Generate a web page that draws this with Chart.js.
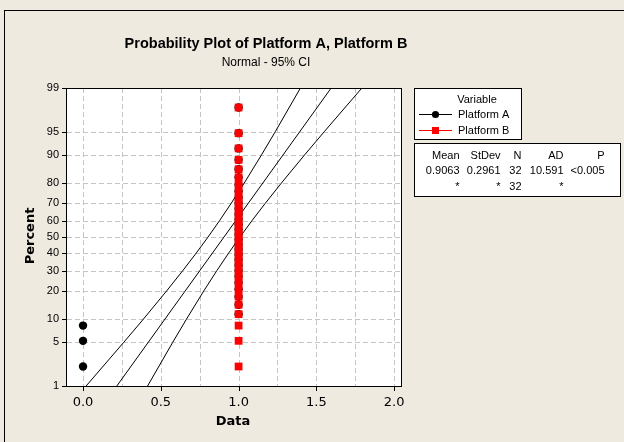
<!DOCTYPE html>
<html>
<head>
<meta charset="utf-8">
<script src="https://cdn.jsdelivr.net/npm/chart.js@4/dist/chart.umd.min.js"></script>
<style>
  html, body { margin: 0; padding: 0; background: #EEEAE0; }
  #wrap { position: relative; width: 624px; height: 442px; }
</style>
</head>
<body>
<div id="wrap"><canvas id="c" width="624" height="442"></canvas></div>
<script>
// Observed values (32 per platform)
const platformA = [0, 0, 0, 1, 1, 1, 1, 1, 1, 1, 1, 1, 1, 1, 1, 1,
                   1, 1, 1, 1, 1, 1, 1, 1, 1, 1, 1, 1, 1, 1, 1, 1];
const platformB = [1, 1, 1, 1, 1, 1, 1, 1, 1, 1, 1, 1, 1, 1, 1, 1,
                   1, 1, 1, 1, 1, 1, 1, 1, 1, 1, 1, 1, 1, 1, 1, 1];
// Median-rank plotting positions (percent) for ranks 1..32
const rankPercent = [2.16, 5.25, 8.33, 11.42, 14.51, 17.59, 20.68, 23.77,
                     26.85, 29.94, 33.02, 36.11, 39.20, 42.28, 45.37, 48.46,
                     51.54, 54.63, 57.72, 60.80, 63.89, 66.98, 70.06, 73.15,
                     76.23, 79.32, 82.41, 85.49, 88.58, 91.67, 94.75, 97.84];

// Fitted normal line for Platform A and its 95% confidence band
const fitPercent = [1, 99];
const fitA = [0.2173, 1.5952];
const ciPercent = [1, 5, 10, 20, 30, 40, 50, 60, 70, 80, 90, 95, 99];
const ciLowerA = [0.0198, 0.2617, 0.3883, 0.5376, 0.6415, 0.7270, 0.8036,
                  0.8770, 0.9521, 1.0361, 1.1473, 1.2360, 1.3976];
const ciUpperA = [0.4149, 0.5765, 0.6652, 0.7764, 0.8604, 0.9355, 1.0089,
                  1.0855, 1.1710, 1.2749, 1.4243, 1.5508, 1.7927];

// Axis ticks
const yTickPercents = [1, 5, 10, 20, 30, 40, 50, 60, 70, 80, 90, 95, 99];
const yGridPercents = [5, 10, 20, 30, 40, 50, 60, 70, 80, 90, 95];
const xTickValues = [0, 0.5, 1, 1.5, 2];
const xGridValues = [0, 0.25, 0.5, 0.75, 1, 1.25, 1.5, 1.75, 2];

// Summary table
const statHeaders = ['Mean', 'StDev', 'N', 'AD', 'P'];
const statRows = [
  ['0.9063', '0.2961', '32', '10.591', '<0.005'],
  ['*', '*', '32', '*', '']
];

// Inverse standard normal CDF (Acklam), used for the probability scale
function probit(p) {
  const a = [-3.969683028665376e+01, 2.209460984245205e+02, -2.759285104469687e+02,
             1.383577518672690e+02, -3.066479806614716e+01, 2.506628277459239e+00];
  const b = [-5.447609879822406e+01, 1.615858368580409e+02, -1.556989798598866e+02,
             6.680131188771972e+01, -1.328068155288572e+01];
  const c = [-7.784894002430293e-03, -3.223964580411365e-01, -2.400758277161838e+00,
             -2.549732539343734e+00, 4.374664141464968e+00, 2.938163982698783e+00];
  const d = [7.784695709041462e-03, 3.224671290700398e-01, 2.445134137142996e+00,
             3.754408661907416e+00];
  const pl = 0.02425, ph = 1 - pl;
  let q, r;
  if (p < pl) {
    q = Math.sqrt(-2 * Math.log(p));
    return (((((c[0]*q+c[1])*q+c[2])*q+c[3])*q+c[4])*q+c[5]) / ((((d[0]*q+d[1])*q+d[2])*q+d[3])*q+1);
  }
  if (p > ph) {
    q = Math.sqrt(-2 * Math.log(1 - p));
    return -(((((c[0]*q+c[1])*q+c[2])*q+c[3])*q+c[4])*q+c[5]) / ((((d[0]*q+d[1])*q+d[2])*q+d[3])*q+1);
  }
  q = p - 0.5; r = q * q;
  return (((((a[0]*r+a[1])*r+a[2])*r+a[3])*r+a[4])*r+a[5])*q / (((((b[0]*r+b[1])*r+b[2])*r+b[3])*r+b[4])*r+1);
}
const z = pct => probit(pct / 100);

const BG = '#EEEAE0';
const GRID = '#C4C4C4';
const RED = '#FF0000';
const SANS = '"Liberation Sans", Arial, sans-serif';

const toPoints = (xs, ps) => xs.map((x, i) => ({ x: x, y: z(ps[i]) }));

const lineStyle = {
  type: 'line', showLine: true, pointRadius: 0, borderColor: '#000',
  borderWidth: 1, fill: false, tension: 0, order: 3
};

const decor = {
  id: 'decor',
  beforeDraw(chart) {
    const { ctx, chartArea: ca, width, height } = chart;
    ctx.save();
    ctx.fillStyle = BG;
    ctx.fillRect(0, 0, width, height);
    ctx.strokeStyle = '#000';
    ctx.lineWidth = 1;
    ctx.strokeRect(4.5, 10.5, width + 10, height + 10);
    ctx.fillStyle = '#fff';
    ctx.fillRect(ca.left, ca.top, ca.right - ca.left, ca.bottom - ca.top);
    ctx.restore();
  },
  beforeDatasetsDraw(chart) {
    const { ctx, chartArea: ca, scales } = chart;
    ctx.save();
    ctx.strokeStyle = GRID;
    ctx.lineWidth = 1;
    ctx.setLineDash([5, 3]);
    xGridValues.forEach(v => {
      const px = Math.round(scales.x.getPixelForValue(v)) + 0.5;
      ctx.beginPath(); ctx.moveTo(px, ca.top); ctx.lineTo(px, ca.bottom); ctx.stroke();
    });
    yGridPercents.forEach(p => {
      const py = Math.round(scales.y.getPixelForValue(z(p))) + 0.5;
      ctx.beginPath(); ctx.moveTo(ca.left, py); ctx.lineTo(ca.right, py); ctx.stroke();
    });
    ctx.restore();
  },
  afterDatasetsDraw(chart) {
    const { ctx, chartArea: ca, scales } = chart;
    ctx.save();
    // plot frame
    ctx.strokeStyle = '#000';
    ctx.lineWidth = 1;
    ctx.setLineDash([]);
    ctx.strokeRect(ca.left - 0.5, ca.top + 0.5, ca.right - ca.left + 1, ca.bottom - ca.top);
    // tick marks
    ctx.beginPath();
    xTickValues.forEach(v => {
      const px = Math.round(scales.x.getPixelForValue(v)) + 0.5;
      ctx.moveTo(px, ca.bottom); ctx.lineTo(px, ca.bottom + 5);
    });
    yTickPercents.forEach(p => {
      const py = Math.round(scales.y.getPixelForValue(z(p))) + 0.5;
      ctx.moveTo(ca.left - 5, py); ctx.lineTo(ca.left, py);
    });
    ctx.stroke();

    // titles
    ctx.fillStyle = '#000';
    ctx.textAlign = 'center';
    ctx.textBaseline = 'alphabetic';
    ctx.font = 'bold 14.5px ' + SANS;
    ctx.fillText('Probability Plot of Platform A, Platform B', 266, 48);
    ctx.font = '12px ' + SANS;
    ctx.fillText('Normal - 95% CI', 266, 66);

    // axis titles
    ctx.font = 'bold 13px "DejaVu Sans", sans-serif';
    ctx.textBaseline = 'middle';
    ctx.fillText('Data', 233, 422);
    ctx.save();
    ctx.translate(31, 236);
    ctx.rotate(-Math.PI / 2);
    ctx.fillText('Percent', 0, 0);
    ctx.restore();

    // legend box
    ctx.strokeStyle = '#000';
    ctx.fillStyle = '#fff';
    ctx.fillRect(414.5, 88.5, 107, 51);
    ctx.strokeRect(414.5, 88.5, 107, 51);
    ctx.fillStyle = '#000';
    ctx.font = '11px ' + SANS;
    ctx.textAlign = 'center';
    ctx.fillText('Variable', 477, 100);
    ctx.textAlign = 'left';
    const entries = [
      { label: 'Platform A', color: '#000', y: 114.5, shape: 'circle' },
      { label: 'Platform B', color: RED, y: 130.5, shape: 'square' }
    ];
    entries.forEach(e => {
      ctx.strokeStyle = e.color;
      ctx.fillStyle = e.color;
      ctx.beginPath(); ctx.moveTo(419, e.y); ctx.lineTo(452, e.y); ctx.stroke();
      if (e.shape === 'circle') {
        ctx.beginPath(); ctx.arc(435.5, e.y, 3.6, 0, Math.PI * 2); ctx.fill();
      } else {
        ctx.fillRect(432, e.y - 3.5, 7, 7);
      }
      ctx.fillStyle = '#000';
      ctx.fillText(e.label, 458, e.y);
    });

    // statistics table
    ctx.strokeStyle = '#000';
    ctx.fillStyle = '#fff';
    ctx.fillRect(414.5, 143.5, 206, 53);
    ctx.strokeRect(414.5, 143.5, 206, 53);
    ctx.fillStyle = '#000';
    ctx.textAlign = 'right';
    const colRight = [459.5, 500.5, 521.5, 563.5, 604.5];
    const rowY = [155.5, 171, 187];
    statHeaders.forEach((h, i) => ctx.fillText(h, colRight[i], rowY[0]));
    statRows.forEach((row, r) => row.forEach((t, i) => ctx.fillText(t, colRight[i], rowY[r + 1])));
    ctx.restore();
  }
};

new Chart(document.getElementById('c'), {
  type: 'scatter',
  data: {
    datasets: [
      {
        label: 'Platform B', data: toPoints(platformB, rankPercent),
        pointStyle: 'rect', pointRadius: 5.5, pointHoverRadius: 5.5,
        backgroundColor: RED, borderColor: RED, borderWidth: 0, order: 0
      },
      {
        label: 'Platform A', data: toPoints(platformA, rankPercent),
        pointStyle: 'circle', pointRadius: 4.2, pointHoverRadius: 4.2,
        backgroundColor: '#000', borderColor: '#000', borderWidth: 0, order: 1
      },
      Object.assign({ label: 'Fit A', data: toPoints(fitA, fitPercent) }, lineStyle),
      Object.assign({ label: 'Lower CI A', data: toPoints(ciLowerA, ciPercent) }, lineStyle),
      Object.assign({ label: 'Upper CI A', data: toPoints(ciUpperA, ciPercent) }, lineStyle)
    ]
  },
  options: {
    responsive: false,
    animation: false,
    events: [],
    layout: { padding: { left: 0, top: 88, right: 223, bottom: 0 } },
    plugins: { legend: { display: false }, tooltip: { enabled: false }, title: { display: false } },
    scales: {
      x: {
        type: 'linear', min: -0.103, max: 2.044,
        grid: { display: false, drawTicks: true, tickLength: 5 },
        border: { display: false },
        afterBuildTicks: s => { s.ticks = xTickValues.map(v => ({ value: v })); },
        afterFit: s => { s.height = 56; },
        ticks: {
          autoSkip: false, maxRotation: 0, padding: 4, color: '#000',
          font: { family: '"DejaVu Sans", sans-serif', size: 13 },
          callback: v => Number(v).toFixed(1)
        }
      },
      y: {
        type: 'linear', min: z(1), max: z(99),
        grid: { display: false, drawTicks: true, tickLength: 5 },
        border: { display: false },
        afterBuildTicks: s => { s.ticks = yTickPercents.map(p => ({ value: z(p) })); },
        afterFit: s => { s.width = 67; },
        ticks: {
          autoSkip: false, padding: 3, color: '#000',
          font: { family: SANS, size: 11 },
          callback: (v, i) => String(yTickPercents[i])
        }
      }
    }
  },
  plugins: [decor]
});
</script>
</body>
</html>
